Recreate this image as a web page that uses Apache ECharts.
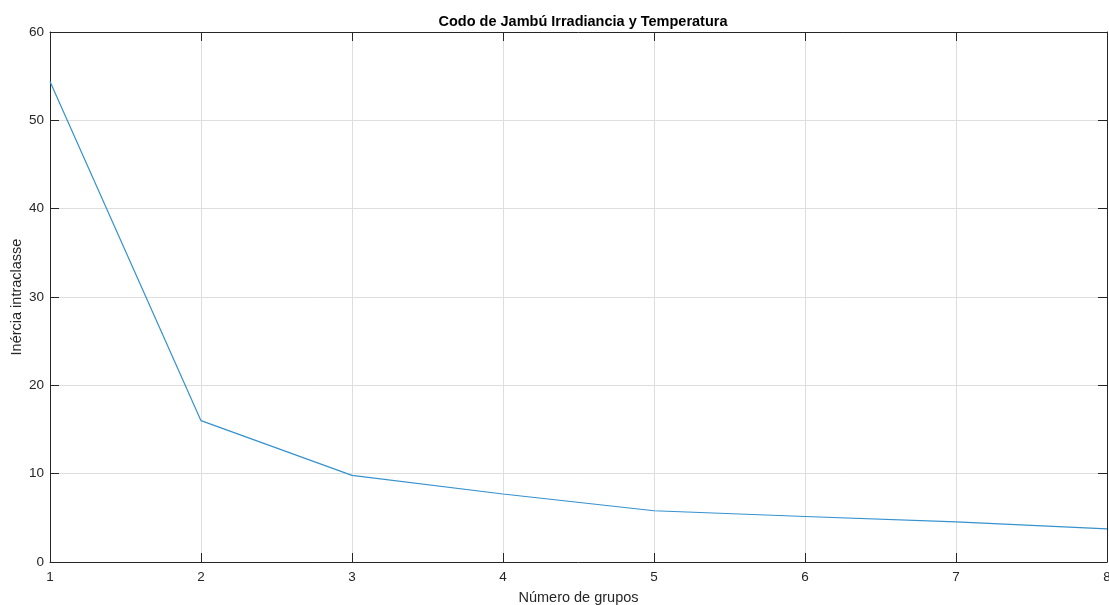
<!DOCTYPE html>
<html>
<head>
<meta charset="utf-8">
<script src="https://cdn.jsdelivr.net/npm/echarts@6/dist/echarts.min.js"></script>
<style>html,body{margin:0;padding:0;background:#fff}#c{width:1109px;height:605px}</style>
</head>
<body>
<div id="c"></div>
<script>
const groups = [1, 2, 3, 4, 5, 6, 7, 8];
const inertia = [54.4, 16.0, 9.8, 7.7, 5.8, 5.15, 4.55, 3.75];
const xTicks = [1, 2, 3, 4, 5, 6, 7, 8];
const yTicks = [0, 10, 20, 30, 40, 50, 60];

const chart = echarts.init(document.getElementById('c'), null, {renderer: 'canvas'});
const font = 'Liberation Sans, Arial, Helvetica, sans-serif';
const axisCol = '#262626';
const baseAxis = {
  axisLine: {show: true, onZero: false, lineStyle: {color: axisCol, width: 1}},
  axisTick: {show: true, inside: true, length: 9, lineStyle: {color: axisCol}},
  splitLine: {show: false},
  axisLabel: {show: false}
};
chart.setOption({
  animation: false,
  backgroundColor: '#ffffff',
  title: {
    text: 'Codo de Jambú Irradiancia y Temperatura',
    left: 578, top: 9, textAlign: 'center',
    textStyle: {fontFamily: font, fontSize: 14.5, fontWeight: 'bold', color: '#000'}
  },
  grid: {left: 50, right: 2, top: 32, bottom: 43, containLabel: false, outerBoundsMode: 'none'},
  xAxis: [
    Object.assign({}, baseAxis, {
      type: 'value', min: 1, max: 8, interval: 1, position: 'bottom',
      name: 'Número de grupos', nameLocation: 'middle', nameGap: 28, nameMoveOverlap: false,
      nameTextStyle: {fontFamily: font, fontSize: 14.5, color: axisCol},
      axisLabel: {show: true, margin: 8, fontFamily: font, fontSize: 13.5, color: axisCol,
        formatter: v => xTicks.includes(v) ? String(v) : ''},
      splitLine: {show: true, lineStyle: {color: '#dedede', width: 1}}
    }),
    Object.assign({}, baseAxis, {
      type: 'value', min: 1, max: 8, interval: 1, position: 'top'
    })
  ],
  yAxis: [
    Object.assign({}, baseAxis, {
      type: 'value', min: 0, max: 60, interval: 10, position: 'left',
      name: 'Inércia intraclasse', nameLocation: 'middle', nameGap: 26, nameMoveOverlap: false,
      nameTextStyle: {fontFamily: font, fontSize: 14.5, color: axisCol},
      axisLabel: {show: true, margin: 6, fontFamily: font, fontSize: 13.5, color: axisCol,
        formatter: v => yTicks.includes(v) ? String(v) : ''},
      splitLine: {show: true, lineStyle: {color: '#dedede', width: 1}}
    }),
    Object.assign({}, baseAxis, {
      type: 'value', min: 0, max: 60, interval: 10, position: 'right'
    })
  ],
  series: [{
    type: 'line',
    data: groups.map((g, i) => [g, inertia[i]]),
    showSymbol: false,
    symbol: 'none',
    lineStyle: {color: '#3592cf', width: 1.2},
    z: 5
  }]
});
</script>
</body>
</html>
